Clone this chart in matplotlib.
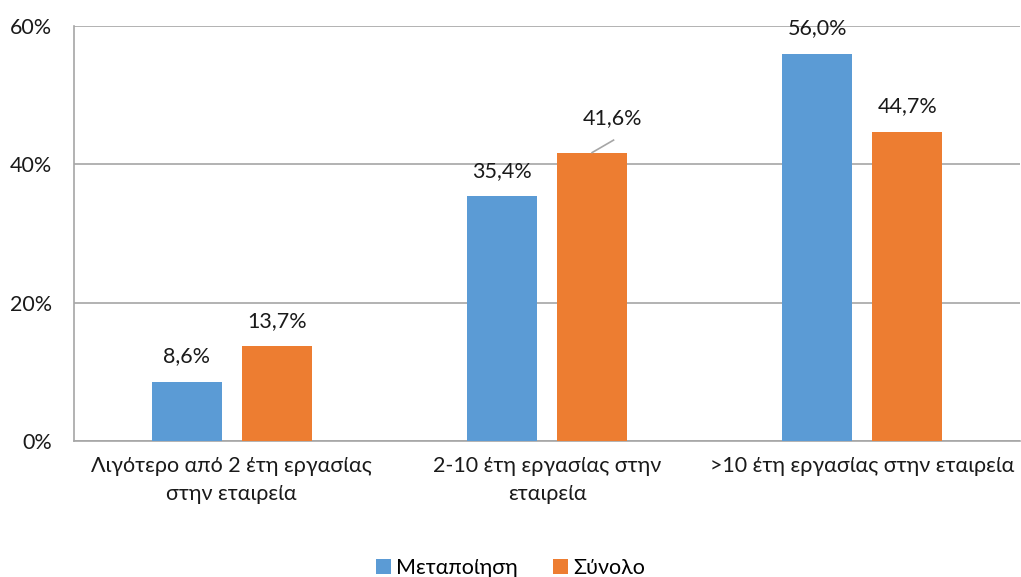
import matplotlib.pyplot as plt
import numpy as np

plt.rcParams['font.family'] = ['Lato', 'DejaVu Sans']

categories = ['Λιγότερο από 2 έτη εργασίας\nστην εταιρεία',
              '2-10 έτη εργασίας στην\nεταιρεία',
              '>10 έτη εργασίας στην εταιρεία']
metapoiisi = [8.6, 35.4, 56.0]
synolo = [13.7, 41.6, 44.7]
series_names = ['Μεταποίηση', 'Σύνολο']
yticks = [0, 20, 40, 60]

blue = '#5B9BD5'
orange = '#ED7D31'
grid_c = '#A6A6A6'
txt_c = '#1a1a1a'
fs = 15.5

fig = plt.figure(figsize=(10.21, 5.77), dpi=100)
ax = fig.add_axes([74/1021, 1 - 441/577, 946/1021, 415/577])

x = np.arange(len(categories))
w = 0.222
off = 0.143
b1 = ax.bar(x - off, metapoiisi, w, color=blue, label=series_names[0], zorder=3)
b2 = ax.bar(x + off, synolo, w, color=orange, label=series_names[1], zorder=3)

def fmt(v):
    return f'{v:.1f}%'.replace('.', ',')

for xi, v in zip(x - off, metapoiisi):
    ax.annotate(fmt(v), (xi, v), xytext=(0, 11), textcoords='offset points',
                ha='center', va='bottom', fontsize=fs, color=txt_c)
for i, (xi, v) in enumerate(zip(x + off, synolo)):
    if i == 1:
        ax.annotate(fmt(v), (xi, v), xytext=(15, 18), textcoords='offset points',
                    ha='center', va='bottom', fontsize=fs, color=txt_c)
        ax.plot([xi, xi + 0.068], [v + 0.1, v + 1.9], color=grid_c, lw=1.2, zorder=4)
    else:
        ax.annotate(fmt(v), (xi, v), xytext=(0, 11), textcoords='offset points',
                    ha='center', va='bottom', fontsize=fs, color=txt_c)

ax.set_xlim(-0.5, 2.5)
ax.set_ylim(0, 60)
ax.set_yticks(yticks)
ax.set_yticklabels([f'{t}%' for t in yticks], fontsize=fs, color=txt_c)
ax.set_xticks(x)
ax.set_xticklabels(categories, fontsize=fs, color=txt_c, linespacing=1.5)
ax.tick_params(length=0, pad=11)
ax.tick_params(axis='y', pad=16)
ax.yaxis.grid(True, color=grid_c, lw=1.2, zorder=0)
for s in ['top', 'right']:
    ax.spines[s].set_visible(False)
ax.spines['left'].set_color(grid_c)
ax.spines['bottom'].set_color(grid_c)
ax.spines['left'].set_linewidth(1.2)
ax.spines['bottom'].set_linewidth(1.2)

fig.legend(handles=[b1, b2], loc='lower center', bbox_to_anchor=(0.5, -0.035), ncol=2,
           frameon=False, fontsize=fs, handlelength=0.7, handleheight=0.7,
           handletextpad=0.25, columnspacing=1.6)

fig.savefig('out.png', dpi=100)
